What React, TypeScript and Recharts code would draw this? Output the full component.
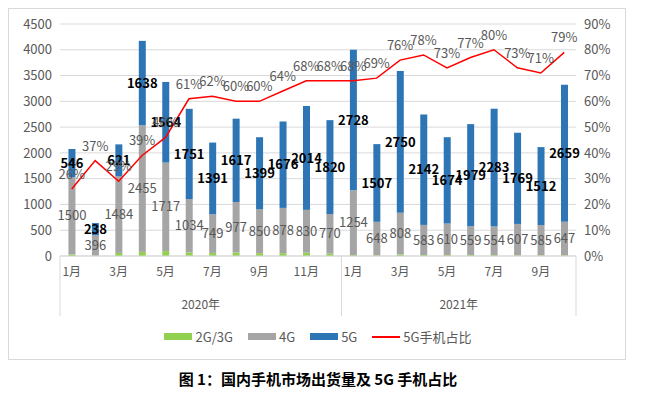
import React from "react";
import { ComposedChart, Bar, Line, XAxis, YAxis, CartesianGrid, LabelList } from "recharts";

// 2020-01 .. 2021-10
const months = [
  "2020-01", "2020-02", "2020-03", "2020-04", "2020-05", "2020-06",
  "2020-07", "2020-08", "2020-09", "2020-10", "2020-11", "2020-12",
  "2021-01", "2021-02", "2021-03", "2021-04", "2021-05", "2021-06",
  "2021-07", "2021-08", "2021-09", "2021-10",
];
const monthLabels = [
  "1月", "", "3月", "", "5月", "", "7月", "", "9月", "", "11月", "",
  "1月", "", "3月", "", "5月", "", "7月", "", "9月", "",
];
const yearLabels = ["2020年", "2021年"];

const g23 = [30, 5, 60, 80, 95, 70, 60, 70, 55, 55, 65, 45, 20, 15, 30, 20, 20, 20, 20, 15, 15, 15];
const g4 = [1500, 396, 1484, 2455, 1717, 1034, 749, 977, 850, 878, 830, 770, 1254, 648, 808, 583, 610, 559, 554, 607, 585, 647];
const g5 = [546, 238, 621, 1638, 1564, 1751, 1391, 1617, 1399, 1676, 2014, 1820, 2728, 1507, 2750, 2142, 1674, 1979, 2283, 1769, 1512, 2659];
const share5g = [26, 37, 29, 39, 46, 61, 62, 60, 60, 64, 68, 68, 68, 69, 76, 78, 73, 77, 80, 73, 71, 79];

const leftTicks = [0, 500, 1000, 1500, 2000, 2500, 3000, 3500, 4000, 4500];
const rightTicks = [0, 10, 20, 30, 40, 50, 60, 70, 80, 90];

const data = months.map((m, i) => ({
  month: m,
  g23: g23[i],
  g4: g4[i],
  g5: g5[i],
  share: share5g[i],
}));

const FONT = "'Noto Sans CJK SC', 'Noto Sans', sans-serif";
const GRAY_TEXT = "#595959";
const AXIS_Y = 256;
const BAND = (576 - 60) / months.length;

function MonthTick(props: any) {
  const { x, index } = props;
  const label = monthLabels[index];
  const parts: React.ReactNode[] = [];
  if (label) {
    parts.push(
      <text key="m" x={x} y={AXIS_Y + 20} textAnchor="middle" fontSize={12} fill={GRAY_TEXT} fontFamily={FONT}>
        {label}
      </text>
    );
  }
  if (index === 0 || index === 12) {
    parts.push(<line key="l" x1={x - BAND / 2} x2={x - BAND / 2} y1={AXIS_Y} y2={AXIS_Y + 60} stroke="#d9d9d9" />);
  }
  if (index === months.length - 1) {
    parts.push(<line key="r" x1={x + BAND / 2} x2={x + BAND / 2} y1={AXIS_Y} y2={AXIS_Y + 60} stroke="#d9d9d9" />);
  }
  if (index === 5 || index === 16) {
    parts.push(
      <text key="y" x={x + BAND / 2} y={AXIS_Y + 53} textAnchor="middle" fontSize={12} fill={GRAY_TEXT} fontFamily={FONT}>
        {yearLabels[index === 5 ? 0 : 1]}
      </text>
    );
  }
  return <g>{parts}</g>;
}

const legendItems = [
  { name: "2G/3G", color: "#92d050", type: "bar" },
  { name: "4G", color: "#a5a5a5", type: "bar" },
  { name: "5G", color: "#2e75b6", type: "bar" },
  { name: "5G手机占比", color: "#ff0000", type: "line" },
];

export default function App() {
  return (
    <div style={{ position: "absolute", left: 0, top: 0, width: 650, height: 396, background: "#fff", fontFamily: FONT }}>
      <div style={{ position: "absolute", left: 8, top: 8, width: 616, height: 350, border: "1px solid #d9d9d9" }} />
      <div style={{ position: "absolute", left: 0, top: 0 }}>
        <ComposedChart width={650} height={320} data={data} margin={{ top: 24, right: 24, bottom: 0, left: 8 }} barCategoryGap="36%">
          <CartesianGrid vertical={false} stroke="#d9d9d9" yAxisId="left" />
          <XAxis dataKey="month" height={64} interval={0} tickLine={false} axisLine={{ stroke: "#d9d9d9" }} tick={<MonthTick />} />
          <YAxis
            yAxisId="left"
            width={52}
            domain={[0, 4500]}
            ticks={leftTicks}
            tickLine={false}
            axisLine={false}
            tick={{ fontSize: 13, fill: GRAY_TEXT, fontFamily: FONT }}
          />
          <YAxis
            yAxisId="right"
            orientation="right"
            width={50}
            domain={[0, 90]}
            ticks={rightTicks}
            tickLine={false}
            axisLine={false}
            tickFormatter={(v: number) => `${v}%`}
            tick={{ fontSize: 13, fill: GRAY_TEXT, fontFamily: FONT }}
          />
          <Bar yAxisId="left" dataKey="g23" stackId="s" fill="#92d050" isAnimationActive={false} />
          <Bar yAxisId="left" dataKey="g4" stackId="s" fill="#a5a5a5" isAnimationActive={false}>
            <LabelList dataKey="g4" position="center" fontSize={13} fill={GRAY_TEXT} fontFamily={FONT} />
          </Bar>
          <Bar yAxisId="left" dataKey="g5" stackId="s" fill="#2e75b6" isAnimationActive={false}>
            <LabelList dataKey="g5" position="center" fontSize={13} fill="#000" fontWeight="bold" fontFamily={FONT} />
          </Bar>
          <Line yAxisId="right" dataKey="share" stroke="#ff0000" strokeWidth={1.5} dot={false} isAnimationActive={false}>
            <LabelList
              dataKey="share"
              position="top"
              offset={10}
              fontSize={13}
              fill={GRAY_TEXT}
              fontFamily={FONT}
              formatter={(v: any) => `${v}%`}
            />
          </Line>
        </ComposedChart>
      </div>
      <div style={{ position: "absolute", top: 327, left: 0, width: 636, display: "flex", justifyContent: "center", gap: 15, fontSize: 13, color: GRAY_TEXT }}>
        {legendItems.map((it) => (
          <div key={it.name} style={{ display: "flex", alignItems: "center", gap: 3 }}>
            {it.type === "bar" ? (
              <span style={{ display: "inline-block", width: 28, height: 7, background: it.color }} />
            ) : (
              <span style={{ display: "inline-block", width: 28, height: 2, background: it.color }} />
            )}
            <span>{it.name}</span>
          </div>
        ))}
      </div>
      <div style={{ position: "absolute", top: 368, left: 0, width: 636, textAlign: "center", fontSize: 15, fontWeight: "bold", color: "#000" }}>
        图 1：国内手机市场出货量及 5G 手机占比
      </div>
    </div>
  );
}
